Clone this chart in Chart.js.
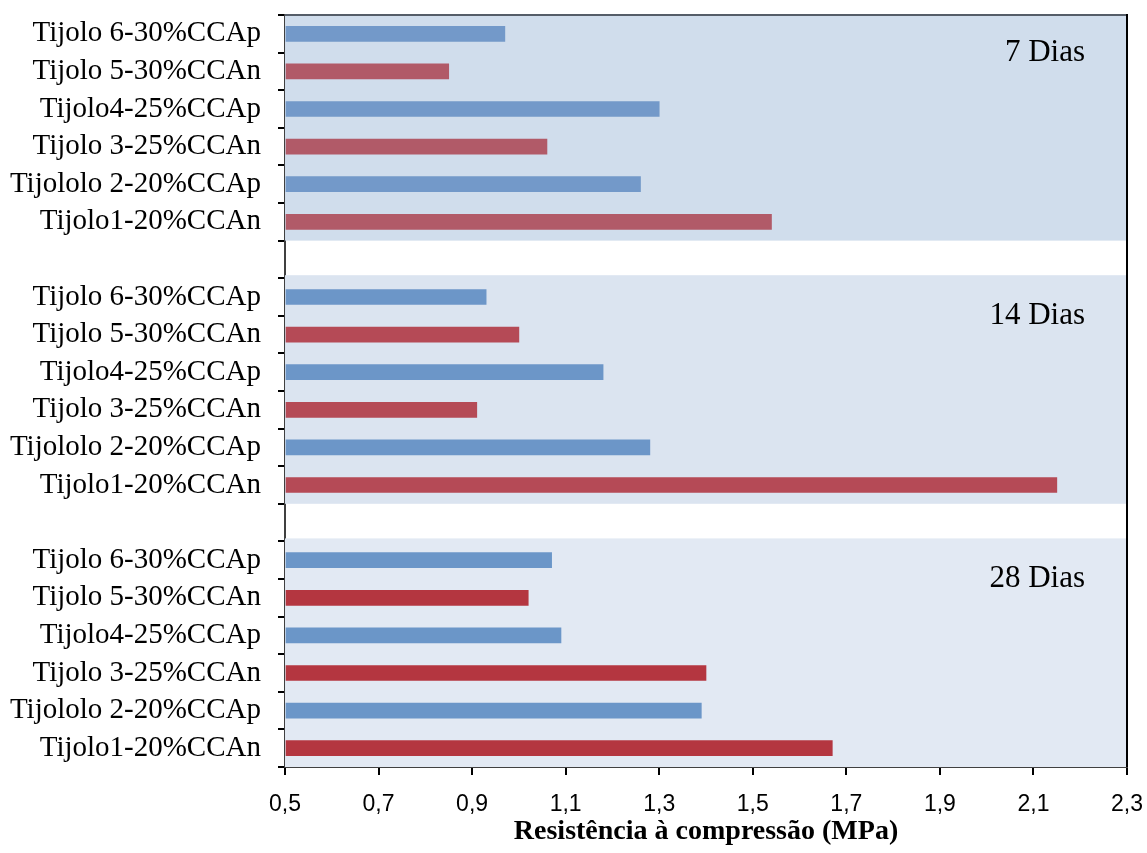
<!DOCTYPE html>
<html>
<head>
<meta charset="utf-8">
<script src="https://cdn.jsdelivr.net/npm/chart.js@4.4.0/dist/chart.umd.min.js"></script>
<style>
  body { margin: 0; background: #fff; }
  #caixa { width: 1147px; height: 853px; }
</style>
</head>
<body>
<div id="caixa"><canvas id="grafico"></canvas></div>
<script>
// rótulos de cada bloco (de cima para baixo)
const tijolos = ['Tijolo 6-30%CCAp', 'Tijolo 5-30%CCAn', 'Tijolo4-25%CCAp',
                 'Tijolo 3-25%CCAn', 'Tijololo 2-20%CCAp', 'Tijolo1-20%CCAn'];
const periodos = ['7 Dias', '14 Dias', '28 Dias'];

// resistência à compressão (MPa)
const dias7  = [0.97, 0.85, 1.30, 1.06, 1.26, 1.54];
const dias14 = [0.93, 1.00, 1.18, 0.91, 1.28, 2.15];
const dias28 = [1.07, 1.02, 1.09, 1.40, 1.39, 1.67];

const ticksX = [0.5, 0.7, 0.9, 1.1, 1.3, 1.5, 1.7, 1.9, 2.1, 2.3];

// cores
const corFundo = ['#d0ddec', '#dbe4f0', '#e2e9f3'];
const corAzul = ['#7399c9', '#6c96c8', '#6b96c8'];
const corVermelho = ['#b15a68', '#b54a56', '#b43640'];

// montar categorias com uma linha vazia entre os blocos
let categorias = [];
let valores = [];
let cores = [];
[dias7, dias14, dias28].forEach(function (serie, b) {
    if (b > 0) { categorias.push(''); valores.push(null); cores.push('#fff'); }
    serie.forEach(function (v, i) {
        categorias.push(tijolos[i]);
        valores.push(v);
        cores.push(i % 2 === 0 ? corAzul[b] : corVermelho[b]);
    });
});

const fundos = {
    id: 'fundos',
    beforeDatasetsDraw(chart) {
        const {ctx, chartArea: {left, right, top, bottom}, scales: {y}} = chart;
        const meio = (y.getPixelForValue(1) - y.getPixelForValue(0)) / 2;
        ctx.save();
        periodos.forEach(function (p, b) {
            const i0 = b * 7;
            const y0 = y.getPixelForValue(i0) - meio - (b > 0 ? 3 : 0);
            const y1 = y.getPixelForValue(i0 + 5) + meio;
            ctx.fillStyle = corFundo[b];
            ctx.fillRect(left, y0, right - left, y1 - y0);
        });
        ctx.strokeStyle = '#555d68';
        ctx.lineWidth = 2;
        ctx.beginPath();
        ctx.moveTo(left, top);
        ctx.lineTo(right, top);
        ctx.stroke();
        ctx.restore();
    },
    afterDatasetsDraw(chart) {
        const {ctx, chartArea: {left, right, top, bottom}, scales: {y}} = chart;
        ctx.save();
        ctx.font = '31px "Liberation Serif"';
        ctx.fillStyle = '#000';
        ctx.textAlign = 'right';
        ctx.textBaseline = 'middle';
        periodos.forEach(function (p, b) {
            ctx.fillText(p, right - 42, y.getPixelForValue(b * 7 + 0.5));
        });
        ctx.strokeStyle = '#000';
        ctx.lineWidth = 2;
        ctx.beginPath();
        ctx.moveTo(right, top - 1);
        ctx.lineTo(right, bottom);
        ctx.stroke();
        ctx.restore();
    }
};

new Chart(document.getElementById('grafico'), {
    type: 'bar',
    data: {
        labels: categorias,
        datasets: [{
            data: valores,
            backgroundColor: cores,
            barThickness: 15,
            base: 0.5
        }]
    },
    options: {
        indexAxis: 'y',
        responsive: true,
        maintainAspectRatio: false,
        animation: false,
        layout: { padding: { top: 15, right: 20, left: 0, bottom: 0 } },
        plugins: {
            legend: { display: false },
            tooltip: { enabled: false }
        },
        scales: {
            x: {
                min: 0.5,
                max: 2.3,
                afterBuildTicks: function (scale) {
                    scale.ticks = ticksX.map(function (v) { return { value: v }; });
                },
                afterFit: function (scale) {
                    scale.height = 86;
                    scale.paddingLeft = 0;
                    scale.paddingRight = 0;
                },
                ticks: {
                    padding: 16,
                    color: '#000',
                    font: { family: '"Liberation Sans"', size: 23 },
                    callback: function (value) {
                        return value.toFixed(1).replace('.', ',');
                    }
                },
                grid: { drawOnChartArea: false, tickLength: 8, color: '#000', lineWidth: 2 },
                border: { color: '#404040', width: 2 },
                title: {
                    display: true,
                    text: 'Resistência à compressão (MPa)',
                    color: '#000',
                    font: { family: '"Liberation Serif"', size: 28, weight: 'bold' },
                    padding: { top: 0, bottom: 4 }
                }
            },
            y: {
                afterFit: function (scale) {
                    scale.width = 285;
                    scale.paddingTop = 0;
                    scale.paddingBottom = 0;
                },
                ticks: {
                    padding: 17,
                    color: '#000',
                    font: { family: '"Liberation Serif"', size: 29 },
                    autoSkip: false
                },
                grid: { drawOnChartArea: false, tickLength: 7, color: '#000', lineWidth: 2, offset: true },
                border: { color: '#404040', width: 2 }
            }
        }
    },
    plugins: [fundos]
});
</script>
</body>
</html>
